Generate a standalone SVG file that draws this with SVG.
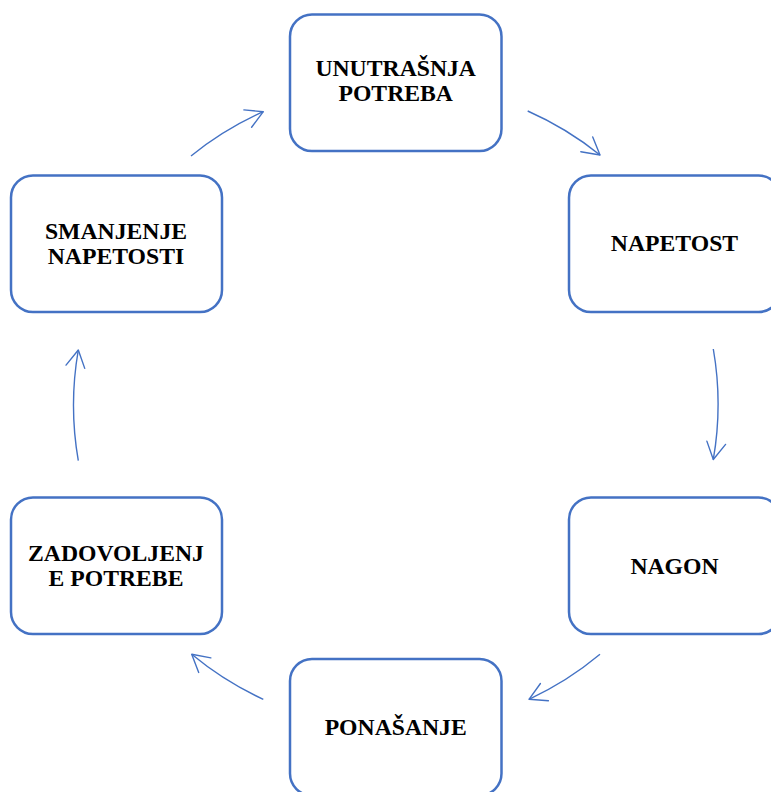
<svg xmlns="http://www.w3.org/2000/svg" width="771" height="792" viewBox="0 0 771 792">
<style>
.box{fill:#ffffff;stroke:#4472C4;stroke-width:2.5}
.lbl{font-family:"Liberation Serif","Times New Roman",serif;font-weight:bold;font-size:23.7px;fill:#000000;text-anchor:middle}
.conn{fill:none;stroke:#4472C4;stroke-width:1.4;marker-end:url(#arr)}
</style>
<defs>
<marker id="arr" markerUnits="userSpaceOnUse" viewBox="-20 -11 22 22" refX="0" refY="0" markerWidth="22" markerHeight="22" orient="auto" overflow="visible">
<path d="M -17,-9.5 L 0,0 L -17,9.5" fill="none" stroke="#4472C4" stroke-width="1.4" stroke-linecap="round" stroke-linejoin="round"/>
</marker>
</defs>
<rect width="771" height="792" fill="#ffffff"/>
<g id="connectors">
<path class="conn" d="M 191,156 A 322 322 0 0 1 263.3,111.7"/>
<path class="conn" d="M 527.7,111 A 322 322 0 0 1 600,155"/>
<path class="conn" d="M 713.3,349 A 322 322 0 0 1 713.3,459.5"/>
<path class="conn" d="M 600,654.3 A 322 322 0 0 1 529,699.3"/>
<path class="conn" d="M 263.3,699.3 A 322 322 0 0 1 191.7,654.3"/>
<path class="conn" d="M 78.3,460.7 A 322 322 0 0 1 78.3,350"/>
</g>
<g id="node-unutrasnja">
<rect class="box" x="290" y="14.5" width="211.5" height="136.5" rx="22"/>
<text class="lbl" x="395.7" y="76">UNUTRAŠNJA</text>
<text class="lbl" x="395.7" y="101">POTREBA</text>
</g>
<g id="node-napetost">
<rect class="box" x="569" y="175.5" width="211.5" height="136.5" rx="22"/>
<text class="lbl" x="674.5" y="251">NAPETOST</text>
</g>
<g id="node-nagon">
<rect class="box" x="569" y="497.5" width="211.5" height="136.5" rx="22"/>
<text class="lbl" x="674.5" y="573.5">NAGON</text>
</g>
<g id="node-ponasanje">
<rect class="box" x="290" y="659" width="211.5" height="136.5" rx="22"/>
<text class="lbl" x="395.7" y="735">PONAŠANJE</text>
</g>
<g id="node-zadovoljenje">
<rect class="box" x="11" y="497.5" width="211" height="136.5" rx="22"/>
<text class="lbl" x="116" y="561">ZADOVOLJENJ</text>
<text class="lbl" x="116" y="585.5">E POTREBE</text>
</g>
<g id="node-smanjenje">
<rect class="box" x="11" y="175.5" width="211" height="136.5" rx="22"/>
<text class="lbl" x="116" y="239">SMANJENJE</text>
<text class="lbl" x="116" y="264">NAPETOSTI</text>
</g>
</svg>
